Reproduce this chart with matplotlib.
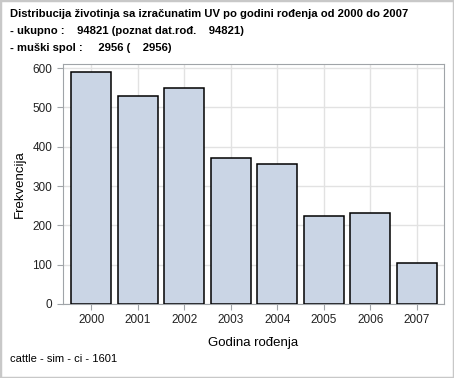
import matplotlib
matplotlib.use("Agg")
import matplotlib.pyplot as plt
from matplotlib.patches import Rectangle

plt.rcParams['font.family'] = ['Liberation Sans', 'DejaVu Sans']

# data
years = ['2000', '2001', '2002', '2003', '2004', '2005', '2006', '2007']
counts = [590, 528, 549, 372, 356, 223, 231, 104]
yticks = [0, 100, 200, 300, 400, 500, 600]

title_lines = [
    "Distribucija životinja sa izračunatim UV po godini rođenja od 2000 do 2007",
    "- ukupno :    94821 (poznat dat.rođ.    94821)",
    "- muški spol :     2956 (    2956)",
]
footer = "cattle - sim - ci - 1601"

fig = plt.figure(figsize=(4.54, 3.78), dpi=100)
fig.patches.append(Rectangle((0, 0), 1, 1, transform=fig.transFigure,
                             fill=False, edgecolor='#c8c8c8', linewidth=2.5))

ax = fig.add_axes([0.138, 0.196, 0.840, 0.635])
x = range(len(years))
ax.bar(x, counts, width=0.86, color='#cad5e5', edgecolor='black', linewidth=1.1, zorder=3)

ax.set_xlim(-0.62, len(years) - 1 + 0.59)
ax.set_ylim(0, 611)
ax.set_xticks(list(x))
ax.set_xticklabels(years)
ax.set_yticks(yticks)
ax.grid(True, color='#e2e2e2', linewidth=1, zorder=0)
for s in ax.spines.values():
    s.set_color('#a0a4a8')
ax.tick_params(axis='both', colors='#a0a4a8', labelcolor='#222222', labelsize=8.5, length=4)
ax.set_xlabel('Godina rođenja', fontsize=9.5, labelpad=8)
ax.set_ylabel('Frekvencija', fontsize=9.5, labelpad=5)

ys = [0.962, 0.917, 0.873]
for line, yy in zip(title_lines, ys):
    fig.text(0.022, yy, line, fontsize=8.1, fontweight='bold', va='center', ha='left')
fig.text(0.022, 0.05, footer, fontsize=8, va='center', ha='left')

fig.savefig('out.png', dpi=100)
